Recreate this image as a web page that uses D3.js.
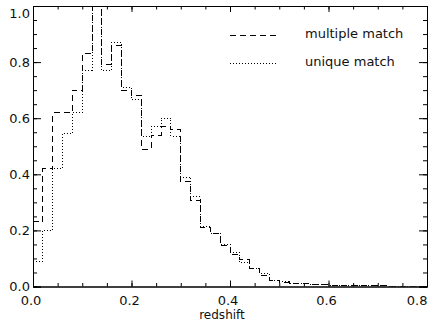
<!DOCTYPE html>
<html>
<head>
<meta charset="utf-8">
<script src="https://cdn.jsdelivr.net/npm/d3@7"></script>
<style>
  body { margin: 0; background: #fff; }
  svg { display: block; }
  text { font-family: "DejaVu Sans", sans-serif; fill: #111; }
</style>
</head>
<body>
<div id="chart"></div>
<script>
const width = 437;
const height = 326;

// bin left edges, width 0.02
const binWidth = 0.02;
const binEdges = d3.range(40).map(i => +(i * binWidth).toFixed(2));

// normalised counts
const multipleMatch = [
  0.23, 0.42, 0.62, 0.62, 0.70, 0.83, 1.20, 0.79, 0.86, 0.70,
  0.68, 0.49, 0.54, 0.57, 0.56, 0.375, 0.305, 0.21, 0.19, 0.145,
  0.115, 0.095, 0.063, 0.04, 0.023, 0.014, 0.012, 0.011, 0.008, 0.006,
  0.005, 0.004, 0.004, 0.003, 0.002, 0.002, 0.001, 0.001, 0, 0
];
const uniqueMatch = [
  0.09, 0.20, 0.42, 0.545, 0.62, 0.77, 1.15, 0.77, 0.87, 0.71,
  0.665, 0.535, 0.57, 0.60, 0.535, 0.39, 0.32, 0.215, 0.19, 0.15,
  0.12, 0.085, 0.063, 0.047, 0.02, 0.017, 0.012, 0.01, 0.008, 0.006,
  0.005, 0.004, 0.004, 0.003, 0.002, 0.002, 0.001, 0.001, 0, 0
];

const seriesNames = ["multiple match", "unique match"];
const xTicks = [0, 0.2, 0.4, 0.6, 0.8];
const yTicks = [0, 0.2, 0.4, 0.6, 0.8, 1.0];

const plotLeft = 33, plotRight = 427, plotTop = 6, plotBottom = 286.5;

const svg = d3.select("#chart")
  .append("svg")
  .attr("width", width)
  .attr("height", height);

const xScale = d3.scaleLinear().domain([0, 0.8]).range([plotLeft, plotRight]);
const yScale = d3.scaleLinear().domain([0, 1]).range([plotBottom, plotTop]);

svg.append("clipPath").attr("id", "plot-clip")
  .append("rect")
  .attr("x", plotLeft).attr("y", plotTop)
  .attr("width", plotRight - plotLeft).attr("height", plotBottom - plotTop);

// step lines
const stepLine = d3.line()
  .x(d => xScale(d[0]))
  .y(d => yScale(d[1]))
  .curve(d3.curveStepAfter);

function stepPoints(values) {
  const pts = values.map((v, i) => [binEdges[i], v]);
  pts.push([binEdges[binEdges.length - 1] + binWidth, values[values.length - 1]]);
  return pts;
}

const styles = [
  { dash: "6,4" },
  { dash: "1,2" }
];

[multipleMatch, uniqueMatch].forEach((vals, i) => {
  svg.append("path")
    .attr("clip-path", "url(#plot-clip)")
    .attr("d", stepLine(stepPoints(vals)))
    .attr("fill", "none")
    .attr("stroke", "#000")
    .attr("stroke-width", 1)
    .attr("stroke-dasharray", styles[i].dash)
    .attr("shape-rendering", "crispEdges");
});

// axes, ticks pointing inward on all four sides
const minorX = d3.range(0, 0.8001, 0.05);
const minorY = d3.range(0, 1.0001, 0.05);

function styleAxis(g) {
  g.select(".domain").attr("stroke", "#000");
  g.selectAll("line").attr("stroke", "#000");
  g.selectAll("text").style("font-size", "13px").attr("font-family", null);
}

svg.append("g")
  .attr("transform", "translate(0," + plotBottom + ")")
  .call(d3.axisBottom(xScale).tickValues(minorX).tickSize(-3.5).tickFormat(""))
  .call(styleAxis);
const xAxis = svg.append("g")
  .attr("transform", "translate(0," + plotBottom + ")")
  .call(d3.axisBottom(xScale).tickValues(xTicks).tickSize(-6).tickPadding(9)
    .tickFormat(d3.format(".1f")))
  .call(styleAxis);
// labels sit slightly left of their ticks; the last one ends at the frame
xAxis.selectAll(".tick text").attr("x", -2.5);
xAxis.selectAll(".tick text").filter(d => d === 0.8)
  .attr("x", 0).attr("text-anchor", "end");

svg.append("g")
  .attr("transform", "translate(0," + plotTop + ")")
  .call(d3.axisTop(xScale).tickValues(minorX).tickSize(-3.5).tickFormat(""))
  .call(styleAxis);
svg.append("g")
  .attr("transform", "translate(0," + plotTop + ")")
  .call(d3.axisTop(xScale).tickValues(xTicks).tickSize(-6).tickFormat(""))
  .call(styleAxis);

svg.append("g")
  .attr("transform", "translate(" + plotLeft + ",0)")
  .call(d3.axisLeft(yScale).tickValues(minorY).tickSize(-4).tickFormat(""))
  .call(styleAxis);
const yAxis = svg.append("g")
  .attr("transform", "translate(" + plotLeft + ",0)")
  .call(d3.axisLeft(yScale).tickValues(yTicks).tickSize(-8).tickPadding(3)
    .tickFormat(d3.format(".1f")))
  .call(styleAxis);
// the top label sits a little lower so it stays inside the picture
yAxis.selectAll(".tick text").filter(d => d === 1).attr("dy", "0.85em");

svg.append("g")
  .attr("transform", "translate(" + plotRight + ",0)")
  .call(d3.axisRight(yScale).tickValues(minorY).tickSize(-4).tickFormat(""))
  .call(styleAxis);
svg.append("g")
  .attr("transform", "translate(" + plotRight + ",0)")
  .call(d3.axisRight(yScale).tickValues(yTicks).tickSize(-8).tickFormat(""))
  .call(styleAxis);

// x title
svg.append("text")
  .attr("x", 222)
  .attr("y", 319)
  .attr("text-anchor", "middle")
  .style("font-size", "12px")
  .text("redshift");

// legend
const legend = svg.append("g");
seriesNames.forEach((name, i) => {
  const ly = 35 + i * 28;
  legend.append("line")
    .attr("x1", 230).attr("x2", 278)
    .attr("y1", ly).attr("y2", ly)
    .attr("stroke", "#000")
    .attr("stroke-width", 1)
    .attr("stroke-dasharray", styles[i].dash)
    .attr("shape-rendering", "crispEdges");
  legend.append("text")
    .attr("x", 305)
    .attr("y", ly + 3)
    .style("font-size", "13px")
    .text(name);
});
</script>
</body>
</html>
